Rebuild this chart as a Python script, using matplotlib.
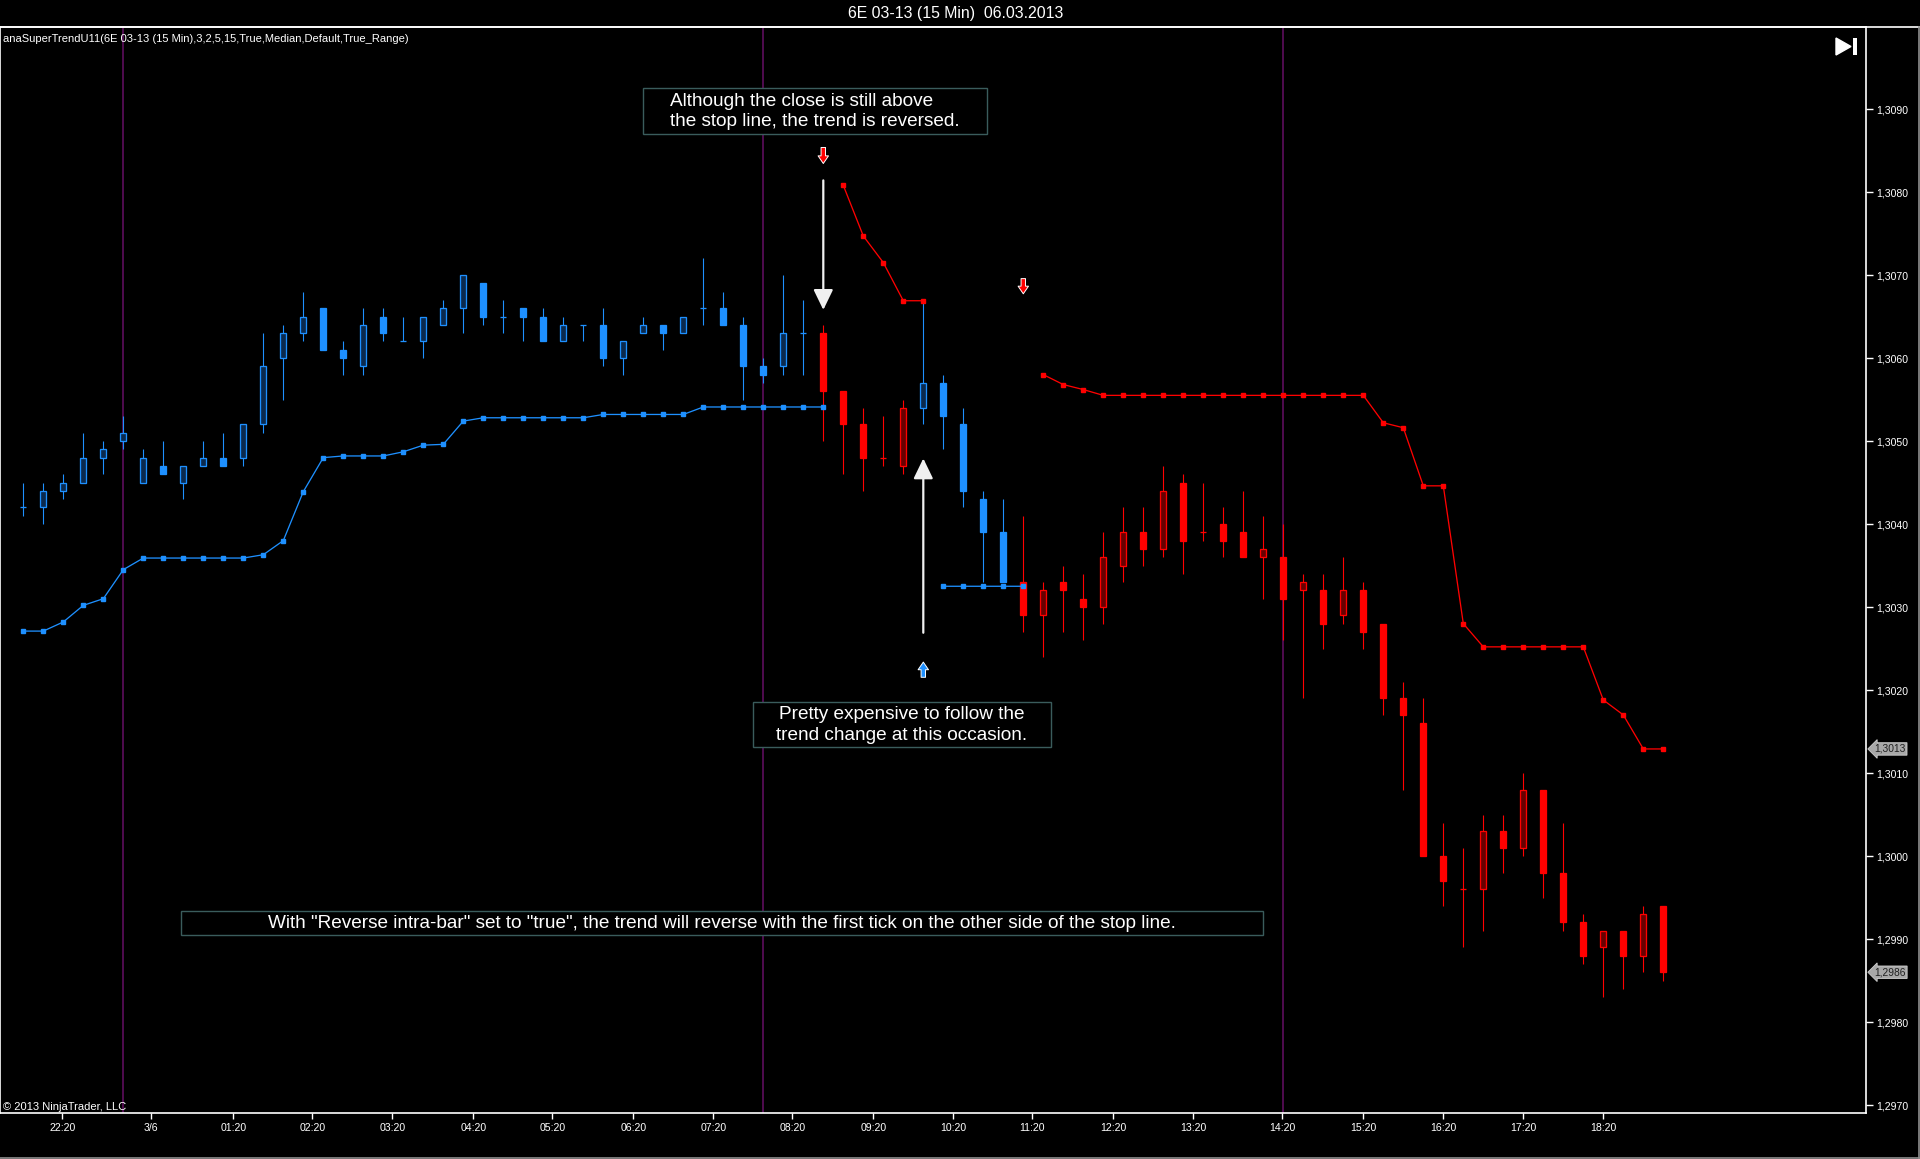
import numpy as np
import matplotlib
matplotlib.use('Agg')
import matplotlib.pyplot as plt
from matplotlib.patches import Rectangle, Polygon, FancyArrowPatch
from matplotlib.lines import Line2D
import matplotlib.transforms as mtransforms

plt.rcParams['font.family'] = ['Liberation Sans', 'DejaVu Sans']

# ---------------- data (15 min bars of 6E 03-13) ----------------
opens = [1.3042, 1.3042, 1.3044, 1.3045, 1.3048, 1.3050, 1.3045, 1.3047, 1.3045, 1.3047,
         1.3048, 1.3048, 1.3052, 1.3060, 1.3063, 1.3066, 1.3061, 1.3059, 1.3065, 1.3062,
         1.3062, 1.3064, 1.3066, 1.3069, 1.3065, 1.3066, 1.3065, 1.3062, 1.3064, 1.3064,
         1.3060, 1.3063, 1.3064, 1.3063, 1.3066, 1.3066, 1.3064, 1.3059, 1.3059, 1.3063,
         1.3063, 1.3056, 1.3052, 1.3048, 1.3047, 1.3054, 1.3057, 1.3052, 1.3043, 1.3039,
         1.3033, 1.3029, 1.3033, 1.3031, 1.3030, 1.3035, 1.3039, 1.3037, 1.3045, 1.3039,
         1.3040, 1.3039, 1.3036, 1.3036, 1.3032, 1.3032, 1.3029, 1.3032, 1.3028, 1.3019,
         1.3016, 1.3000, 1.2996, 1.2996, 1.3003, 1.3001, 1.3008, 1.2998, 1.2992, 1.2989,
         1.2991, 1.2988, 1.2994]
highs = [1.3045, 1.3045, 1.3046, 1.3051, 1.3050, 1.3053, 1.3049, 1.3050, 1.3047, 1.3050,
         1.3051, 1.3052, 1.3063, 1.3064, 1.3068, 1.3066, 1.3062, 1.3066, 1.3066, 1.3065,
         1.3065, 1.3067, 1.3070, 1.3069, 1.3067, 1.3066, 1.3066, 1.3065, 1.3064, 1.3066,
         1.3062, 1.3065, 1.3064, 1.3065, 1.3072, 1.3068, 1.3065, 1.3060, 1.3070, 1.3067,
         1.3064, 1.3056, 1.3054, 1.3053, 1.3055, 1.3067, 1.3058, 1.3054, 1.3044, 1.3043,
         1.3041, 1.3033, 1.3035, 1.3034, 1.3039, 1.3042, 1.3042, 1.3047, 1.3046, 1.3045,
         1.3042, 1.3044, 1.3041, 1.3040, 1.3034, 1.3034, 1.3036, 1.3033, 1.3028, 1.3021,
         1.3019, 1.3004, 1.3001, 1.3005, 1.3005, 1.3010, 1.3008, 1.3004, 1.2993, 1.2991,
         1.2991, 1.2994, 1.2994]
lows = [1.3041, 1.3040, 1.3043, 1.3045, 1.3046, 1.3049, 1.3045, 1.3046, 1.3043, 1.3047,
        1.3047, 1.3047, 1.3051, 1.3055, 1.3062, 1.3061, 1.3058, 1.3058, 1.3062, 1.3062,
        1.3060, 1.3064, 1.3063, 1.3064, 1.3063, 1.3062, 1.3062, 1.3062, 1.3062, 1.3059,
        1.3058, 1.3063, 1.3061, 1.3063, 1.3064, 1.3064, 1.3055, 1.3057, 1.3058, 1.3058,
        1.3050, 1.3046, 1.3044, 1.3047, 1.3046, 1.3052, 1.3049, 1.3042, 1.3033, 1.3033,
        1.3027, 1.3024, 1.3027, 1.3026, 1.3028, 1.3033, 1.3035, 1.3036, 1.3034, 1.3038,
        1.3036, 1.3036, 1.3031, 1.3026, 1.3019, 1.3025, 1.3028, 1.3025, 1.3017, 1.3008,
        1.3000, 1.2994, 1.2989, 1.2991, 1.2998, 1.3000, 1.2995, 1.2991, 1.2987, 1.2983,
        1.2984, 1.2986, 1.2985]
closes = [1.3042, 1.3044, 1.3045, 1.3048, 1.3049, 1.3051, 1.3048, 1.3046, 1.3047, 1.3048,
          1.3047, 1.3052, 1.3059, 1.3063, 1.3065, 1.3061, 1.3060, 1.3064, 1.3063, 1.3062,
          1.3065, 1.3066, 1.3070, 1.3065, 1.3065, 1.3065, 1.3062, 1.3064, 1.3064, 1.3060,
          1.3062, 1.3064, 1.3063, 1.3065, 1.3066, 1.3064, 1.3059, 1.3058, 1.3063, 1.3063,
          1.3056, 1.3052, 1.3048, 1.3048, 1.3054, 1.3057, 1.3053, 1.3044, 1.3039, 1.3033,
          1.3029, 1.3032, 1.3032, 1.3030, 1.3036, 1.3039, 1.3037, 1.3044, 1.3038, 1.3039,
          1.3038, 1.3036, 1.3037, 1.3031, 1.3033, 1.3028, 1.3032, 1.3027, 1.3019, 1.3017,
          1.3000, 1.2997, 1.2996, 1.3003, 1.3001, 1.3008, 1.2998, 1.2992, 1.2988, 1.2991,
          1.2988, 1.2993, 1.2986]
# trend per bar: 1 = up (blue), -1 = down (red)
trend = [1, 1, 1, 1, 1, 1, 1, 1, 1, 1,
         1, 1, 1, 1, 1, 1, 1, 1, 1, 1,
         1, 1, 1, 1, 1, 1, 1, 1, 1, 1,
         1, 1, 1, 1, 1, 1, 1, 1, 1, 1,
         -1, -1, -1, -1, -1, 1, 1, 1, 1, 1,
         -1, -1, -1, -1, -1, -1, -1, -1, -1, -1,
         -1, -1, -1, -1, -1, -1, -1, -1, -1, -1,
         -1, -1, -1, -1, -1, -1, -1, -1, -1, -1,
         -1, -1, -1]
N = None
stop_up = [1.30271, 1.30271, 1.30282, 1.30302, 1.30310, 1.30345, 1.30359, 1.30359, 1.30359, 1.30359,
           1.30359, 1.30359, 1.30363, 1.30380, 1.30439, 1.30480, 1.30482, 1.30482, 1.30482, 1.30487,
           1.30495, 1.30496, 1.30524, 1.30528, 1.30528, 1.30528, 1.30528, 1.30528, 1.30528, 1.30532,
           1.30532, 1.30532, 1.30532, 1.30532, 1.30541, 1.30541, 1.30541, 1.30541, 1.30541, 1.30541,
           1.30541, N, N, N, N, N, 1.30325, 1.30325, 1.30325, 1.30325,
           1.30325, N, N, N, N, N, N, N, N, N,
           N, N, N, N, N, N, N, N, N, N,
           N, N, N, N, N, N, N, N, N, N,
           N, N, N]
stop_down = [N, N, N, N, N, N, N, N, N, N,
             N, N, N, N, N, N, N, N, N, N,
             N, N, N, N, N, N, N, N, N, N,
             N, N, N, N, N, N, N, N, N, N,
             N, 1.30808, 1.30747, 1.30715, 1.30669, 1.30669, N, N, N, N,
             N, 1.30580, 1.30568, 1.30562, 1.30555, 1.30555, 1.30555, 1.30555, 1.30555, 1.30555,
             1.30555, 1.30555, 1.30555, 1.30555, 1.30555, 1.30555, 1.30555, 1.30555, 1.30522, 1.30516,
             1.30446, 1.30446, 1.30280, 1.30252, 1.30252, 1.30252, 1.30252, 1.30252, 1.30252, 1.30188,
             1.30170, 1.30129, 1.30129]

# trend-change signal arrows (bar, direction, base price, tip price)
sig_bar = [40, 50, 45]
sig_dir = [-1, -1, 1]
sig_base = [1.30857, 1.30699, 1.30212]
sig_tip = [1.30831, 1.30674, 1.30237]

# hand-drawn white arrows (bar, tail price, tip price)
draw_arrow_bar = [40, 45]
draw_arrow_tail = [1.30814, 1.30269]
draw_arrow_tip = [1.30658, 1.30479]

session_bars = [5, 37, 63]

xtick_pos = [1.95, 6.4, 10.5, 14.45, 18.45, 22.5, 26.45, 30.5, 34.5, 38.45,
             42.5, 46.5, 50.45, 54.5, 58.5, 62.95, 67.0, 71.0, 75.0, 79.0]
xtick_labels = ['22:20', '3/6', '01:20', '02:20', '03:20', '04:20', '05:20', '06:20', '07:20', '08:20',
                '09:20', '10:20', '11:20', '12:20', '13:20', '14:20', '15:20', '16:20', '17:20', '18:20']
ytick_vals = [1.2970, 1.2980, 1.2990, 1.3000, 1.3010, 1.3020, 1.3030, 1.3040,
              1.3050, 1.3060, 1.3070, 1.3080, 1.3090]

title_text = '6E 03-13 (15 Min)  06.03.2013'
indicator_text = 'anaSuperTrendU11(6E 03-13 (15 Min),3,2,5,15,True,Median,Default,True_Range)'
note1 = 'Although the close is still above    \nthe stop line, the trend is reversed.'
note2 = 'Pretty expensive to follow the\ntrend change at this occasion.'
note3 = 'With "Reverse intra-bar" set to "true", the trend will reverse with the first tick on the other side of the stop line.'

# ---------------- layout ----------------
W, H = 1920, 1159
def fx(px):
    return px / W
def fy(py):
    return 1 - py / H

BLUE = '#1E90FF'
BLUE_DARK = '#0b2a4e'
RED = '#FF0000'
RED_DARK = '#680000'
PURPLE = '#4d0b4d'
PX = 0.72  # one pixel in points

fig = plt.figure(figsize=(W / 100, H / 100), dpi=100, facecolor='black')
ax = fig.add_axes([0, fy(1113), fx(1866), (1113 - 27) / H])
ax.set_facecolor('black')
ax.set_xlim(-1.165, 92.135)
ax.set_ylim(1.296904, 1.309988)
for s in ax.spines.values():
    s.set_color('white')
    s.set_linewidth(1.2)

x = np.arange(len(opens))
o = np.array(opens); h = np.array(highs); l = np.array(lows); c = np.array(closes)
tr = np.array(trend)

# session separators
for b in session_bars:
    ax.axvline(b, color=PURPLE, lw=2 * PX, zorder=1)

bw = 0.31
bright = np.where(tr > 0, BLUE, RED)
dark = np.where(tr > 0, BLUE_DARK, RED_DARK)

# wicks
ax.vlines(x, l, h, colors=bright, lw=1.1 * PX, zorder=2)
# bodies
for i in range(len(x)):
    if c[i] > o[i]:
        ax.bar(x[i], c[i] - o[i], bottom=o[i], width=bw, facecolor=dark[i],
               edgecolor=bright[i], linewidth=1.3 * PX, zorder=3)
    elif c[i] < o[i]:
        ax.bar(x[i], o[i] - c[i], bottom=c[i], width=bw, facecolor=bright[i],
               edgecolor=bright[i], linewidth=1.3 * PX, zorder=3)
    else:
        ax.hlines(o[i], x[i] - bw / 2, x[i] + bw / 2, colors=bright[i], lw=1.3 * PX, zorder=3)

# stop lines
su = np.array([np.nan if v is None else v for v in stop_up], dtype=float)
sd = np.array([np.nan if v is None else v for v in stop_down], dtype=float)
ax.plot(x, su, color=BLUE, lw=1.3 * PX, marker='s', ms=3.2, mec=BLUE, mfc=BLUE, zorder=4)
ax.plot(x, sd, color=RED, lw=1.3 * PX, marker='s', ms=3.2, mec=RED, mfc=RED, zorder=4)

# signal arrows
for b, d, y0, y1 in zip(sig_bar, sig_dir, sig_base, sig_tip):
    col = RED if d < 0 else BLUE
    arr = FancyArrowPatch((b, y0), (b, y1),
                          arrowstyle='simple,head_length=0.55,head_width=0.75,tail_width=0.32',
                          mutation_scale=10, facecolor=col, edgecolor='white', lw=0.7, zorder=6)
    ax.add_patch(arr)

# drawn white arrows
for b, y0, y1 in zip(draw_arrow_bar, draw_arrow_tail, draw_arrow_tip):
    arr = FancyArrowPatch((b, y0), (b, y1),
                          arrowstyle='-|>,head_length=0.62,head_width=0.3',
                          mutation_scale=20, color='#f0f0f0', lw=1.6, shrinkA=0, shrinkB=0,
                          zorder=6)
    ax.add_patch(arr)

# axes ticks
ax.yaxis.tick_right()
ax.set_yticks(ytick_vals)
ax.set_yticklabels([('%.4f' % v).replace('.', ',') for v in ytick_vals])
ax.tick_params(axis='y', colors='white', labelcolor='white', length=5, width=1, pad=2.5,
               labelsize=7.6)
ax.set_xticks(xtick_pos)
ax.set_xticklabels(xtick_labels)
ax.tick_params(axis='x', colors='white', labelcolor='white', length=4, width=1, pad=3,
               labelsize=7.6)

# price markers on the axis
blend = mtransforms.blended_transform_factory(ax.transAxes, ax.transData)
last_stop = sd[~np.isnan(sd)][-1]
for val in [last_stop, c[-1]]:
    ax.text(1.0045, val, ('%.4f' % val).replace('.', ','), transform=blend,
            fontsize=7.4, color='#202020', va='center', ha='left', clip_on=False,
            bbox=dict(boxstyle='larrow,pad=0.12', fc='#a8a8a8', ec='#d0d0d0', lw=0.6))

# texts inside the chart
fig.text(fx(3), fy(39), indicator_text, color='white', fontsize=8, ha='left', va='center')
fig.text(fx(3), fy(1107), '\u00a9 2013 NinjaTrader, LLC', color='white', fontsize=8,
         ha='left', va='center')
fig.text(fx(956), fy(13.5), title_text, color='white', fontsize=11.4, ha='center', va='center')

# top white separator
fig.add_artist(Line2D([0, 1], [fy(27), fy(27)], color='white', lw=1.2,
                      transform=fig.transFigure))
# outer frame bottom/right
fig.add_artist(Line2D([0, 1], [fy(1158), fy(1158)], color='#909090', lw=1.2,
                      transform=fig.transFigure))
fig.add_artist(Line2D([fx(1919), fx(1919)], [fy(27), fy(1159)], color='#909090', lw=1.2,
                      transform=fig.transFigure))

# play-to-end icon
fig.add_artist(Polygon([[fx(1836), fy(38)], [fx(1836), fy(55)], [fx(1851), fy(46.5)]],
                       closed=True, facecolor='white', edgecolor='white',
                       transform=fig.transFigure))
fig.add_artist(Rectangle((fx(1853), fy(55)), fx(4), 17 / H, facecolor='white',
                         edgecolor='none', transform=fig.transFigure))

# annotation boxes
def note_box(x0, y0, x1, y1, text, align):
    fig.add_artist(Rectangle((fx(x0), fy(y1)), fx(x1 - x0), (y1 - y0) / H,
                             facecolor='black', edgecolor='#3a5c5c', lw=1.0,
                             transform=fig.transFigure, zorder=7))
    fig.text(fx((x0 + x1) / 2), fy((y0 + y1) / 2 + 0.5), text, color='white', fontsize=13.7,
             ha='center', va='center', multialignment=align, linespacing=1.3, zorder=8)

note_box(643, 88, 987, 134, note1, 'left')
note_box(753, 702, 1051, 747, note2, 'center')
note_box(181, 911, 1263, 935, note3, 'center')

fig.savefig('out.png', dpi=100, facecolor='black')
